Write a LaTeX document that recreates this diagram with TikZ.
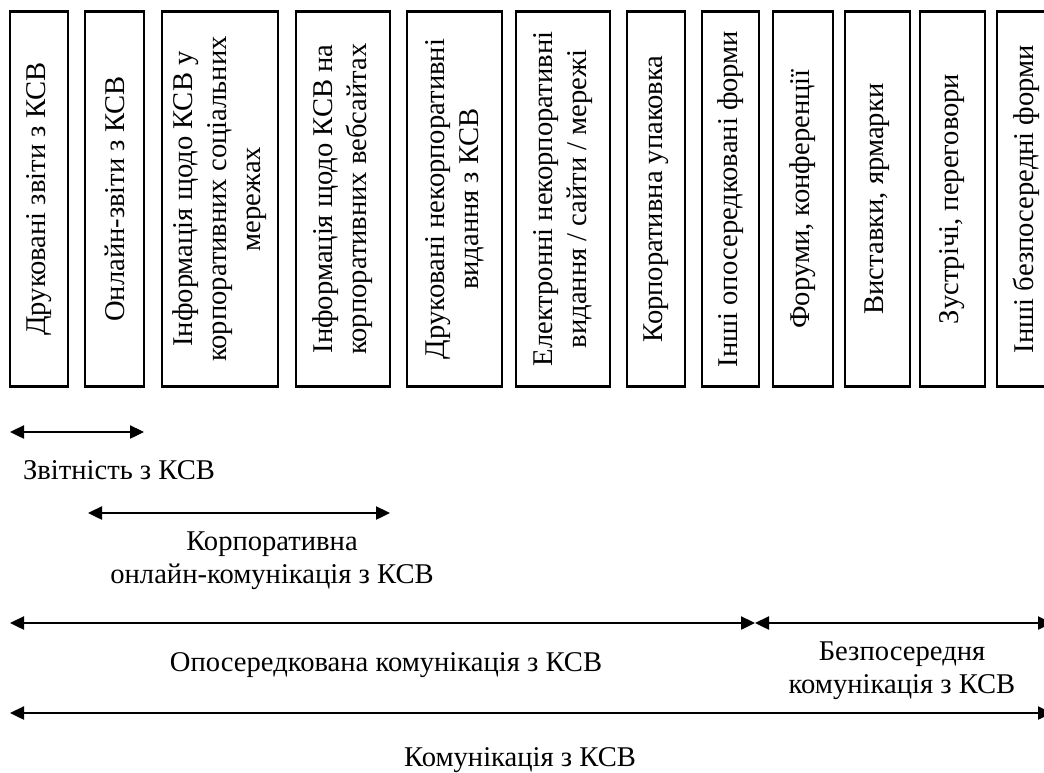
\documentclass[tikz,border=0pt]{standalone}
\usepackage{fontspec}
\setmainfont{Liberation Serif}
\usetikzlibrary{arrows.meta,positioning}
\tikzstyle{form} = [draw=black, line width=1.3pt, rotate=90, align=center,
inner sep=2pt, minimum width=187.5pt, font=\fontsize{14.3}{17}\selectfont]
\tikzstyle{lbl} = [align=center, inner sep=0pt, font=\fontsize{14.3}{16.5}\selectfont]
\tikzstyle{arrow} = [line width=1.2pt,<->]
\tikzset{>={Triangle[length=7pt,width=6.5pt]}}

\begin{document}
\begin{tikzpicture}[x=0.5pt,y=-0.5pt]
    \path[use as bounding box, clip] (0,0) rectangle (1044,772);
    \node[form, minimum height=29pt] (druk) at (39,199) {Друковані звіти з КСВ};
    \node[form, minimum height=29.5pt] (onlzvit) at (114.5,199) {Онлайн-звіти з КСВ};
    \node[form, minimum height=58pt] (socmer) at (220,199) {Інформація щодо КСВ у\\корпоративних соціальних\\мережах};
    \node[form, minimum height=47pt] (vebsait) at (343,199) {Інформація щодо КСВ на\\корпоративних вебсайтах};
    \node[form, minimum height=47.5pt] (nekdruk) at (454.5,199) {Друковані некорпоративні\\видання з КСВ};
    \node[form, minimum height=47pt] (nekel) at (563,199) {Електронні некорпоративні\\видання / сайти / мережі};
    \node[form, minimum height=29pt] (upak) at (656,199) {Корпоративна упаковка};
    \node[form, minimum height=28.5pt] (inopos) at (730.5,199) {Інші опосередковані форми};
    \node[form, minimum height=30pt] (forum) at (803,199) {Форуми, конференції};
    \node[form, minimum height=32.5pt] (vyst) at (877.5,199) {Виставки, ярмарки};
    \node[form, minimum height=32.5pt] (zustr) at (952.5,199) {Зустрічі, переговори};
    \node[form, minimum height=29pt] (inbez) at (1026,199) {Інші безпосередні форми};

    \coordinate (zv-a) at (10,432);
    \coordinate (zv-b) at (144,432);
    \coordinate (onl-a) at (88,513);
    \coordinate (onl-b) at (390,513);
    \coordinate (op-a) at (10,623);
    \coordinate (op-b) at (755,623);
    \coordinate (bez-b) at (1052,623);
    \coordinate (kom-a) at (10,713);
    \coordinate (kom-b) at (1052,713);

    \draw[arrow] (zv-a) -- (zv-b);
    \draw[arrow] (onl-a) -- (onl-b);
    \draw[arrow] (op-a) -- (op-b);
    \draw[arrow] (op-b) -- (bez-b);
    \draw[arrow] (kom-a) -- (kom-b);

    \node[lbl] (zvitn) at (119,470) {Звітність з КСВ};
    \node[lbl] (korponl) at (272,561) {Корпоративна\\онлайн-комунікація з КСВ};
    \node[lbl] (oposer) at (386,665) {Опосередкована комунікація з КСВ};
    \node[lbl] (bezpos) at (902,671) {Безпосередня\\комунікація з КСВ};
    \node[lbl] (komun) at (520,760) {Комунікація з КСВ};
\end{tikzpicture}
\end{document}
